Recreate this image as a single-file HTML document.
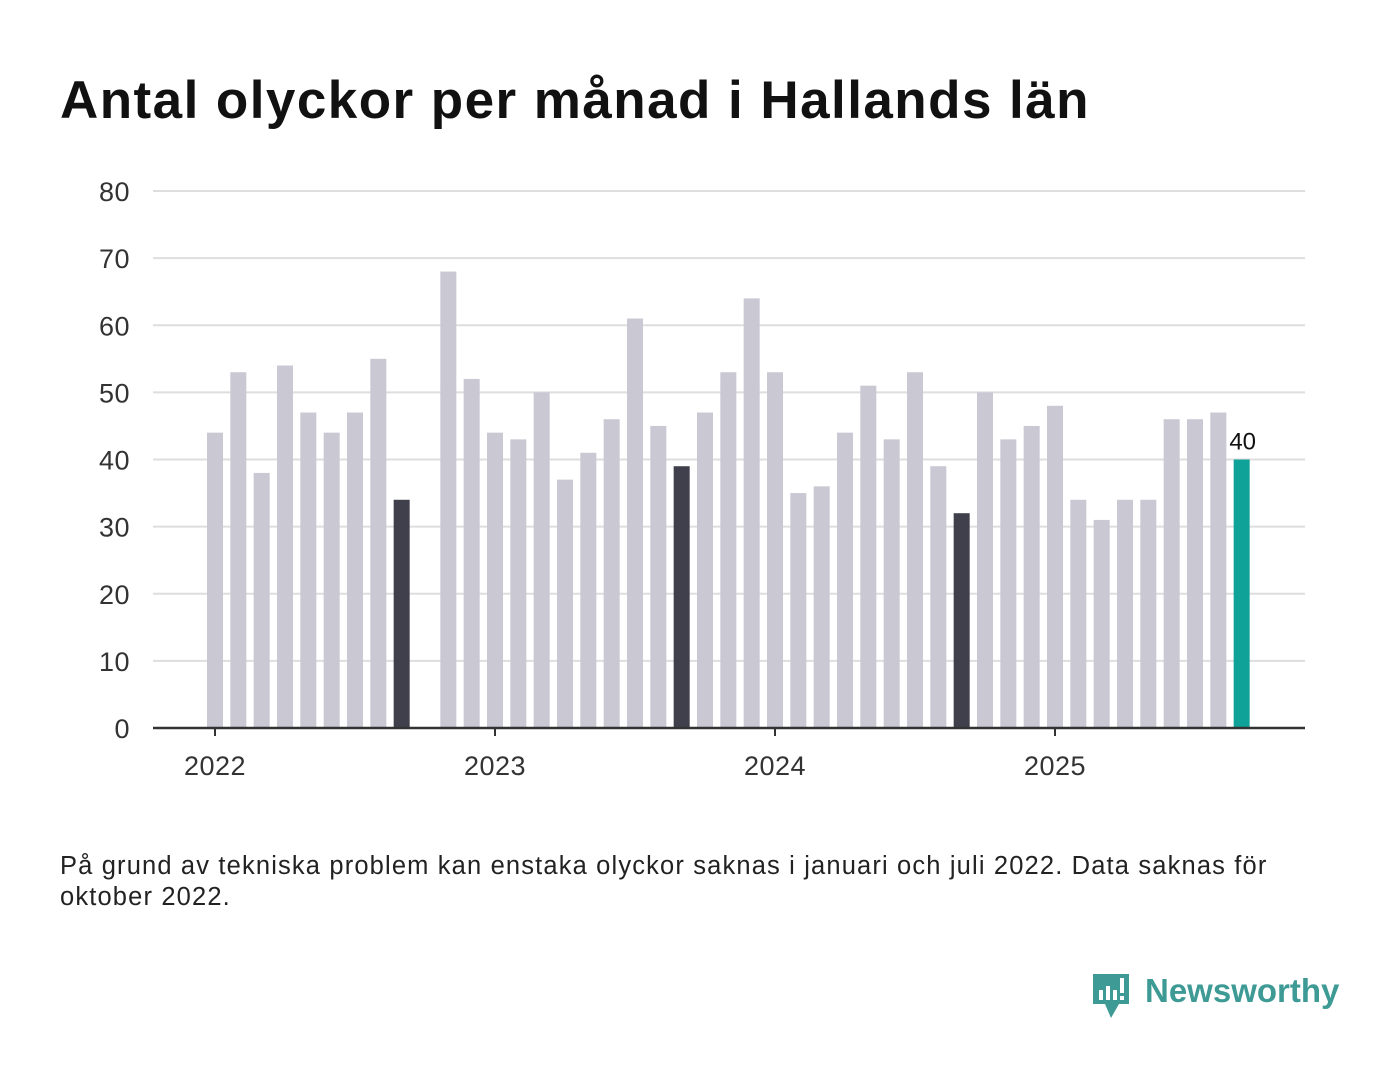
<!DOCTYPE html>
<html><head><meta charset="utf-8"><style>
body{margin:0;width:1400px;height:1080px;background:#fff;font-family:"Liberation Sans","DejaVu Sans",sans-serif;overflow:hidden;position:relative}
h1{position:absolute;left:60px;top:70px;margin:0;font-size:53px;font-weight:bold;color:#111;letter-spacing:1.45px}
.note{position:absolute;left:60px;top:851px;font-size:25.5px;color:#222;line-height:31px;width:1240px;letter-spacing:1.15px}
.logo{position:absolute;left:1091px;top:970px}
</style></head><body>
<h1>Antal olyckor per månad i Hallands län</h1>
<svg id="chart" width="1400" height="1080" style="position:absolute;left:0;top:0"></svg>
<div class="note">På grund av tekniska problem kan enstaka olyckor saknas i januari och juli 2022. Data saknas för oktober 2022.</div>
<div class="logo">
<svg width="250" height="52" viewBox="0 0 250 52">
<path d="M2 4h36v30H28l-8 14-6-14H2z" fill="#3e9a94"/>
<rect x="8" y="20" width="4" height="10" fill="#fff"/><rect x="15" y="16" width="4" height="14" fill="#fff"/><rect x="22" y="20" width="4" height="10" fill="#fff"/><rect x="29" y="8" width="4" height="15" fill="#fff"/><rect x="29" y="26" width="4" height="4" fill="#fff"/>
<text x="54" y="32" font-size="33" font-weight="bold" fill="#3e9a94" font-family="Liberation Sans, sans-serif">Newsworthy</text>
</svg></div>
<script>
const months=["2022-01","2022-02","2022-03","2022-04","2022-05","2022-06","2022-07","2022-08","2022-09","2022-10","2022-11","2022-12",
"2023-01","2023-02","2023-03","2023-04","2023-05","2023-06","2023-07","2023-08","2023-09","2023-10","2023-11","2023-12",
"2024-01","2024-02","2024-03","2024-04","2024-05","2024-06","2024-07","2024-08","2024-09","2024-10","2024-11","2024-12",
"2025-01","2025-02","2025-03","2025-04","2025-05","2025-06","2025-07","2025-08","2025-09"];
const values=[44,53,38,54,47,44,47,55,34,null,68,52,
44,43,50,37,41,46,61,45,39,47,53,64,
53,35,36,44,51,43,53,39,32,50,43,45,
48,34,31,34,34,46,46,47,40];
const yTicks=[0,10,20,30,40,50,60,70,80];
const xTickLabels=["2022","2023","2024","2025"];
const NS="http://www.w3.org/2000/svg";
const svg=document.getElementById('chart');
const y=v=>728-v*(537/80);
const x=i=>215+i*(280/12);
function el(t,a){const e=document.createElementNS(NS,t);for(const k in a)e.setAttribute(k,a[k]);svg.appendChild(e);return e;}
yTicks.forEach(t=>{
 if(t>0){const g=el('line',{x1:153,x2:1305,y1:y(t),y2:y(t),stroke:'#dedede','stroke-width':2});
 
 }
 const l=el('text',{x:130,y:y(t)+10,'text-anchor':'end','font-size':27,fill:'#333','letter-spacing':'0.5'});l.textContent=t;
 
 
});
values.forEach((v,i)=>{
 if(v==null)return;
 const last=i===values.length-1;
 const col=last?'#0fa298':(months[i].endsWith('-09')?'#403f4c':'#c9c8d3');
 const r=el('rect',{x:x(i)-8,y:y(v),width:16,height:728-y(v),fill:col});
 
 
 if(last){const t=el('text',{x:x(i)+1,y:y(v)-10,'text-anchor':'middle','font-size':24,fill:'#111'});t.textContent=v;
 
 }
});
const ax=el('line',{x1:153,x2:1305,y1:728,y2:728,stroke:'#333','stroke-width':2.5});


xTickLabels.forEach((lab,k)=>{
 const xi=x(k*12);
 const tk=el('line',{x1:xi,x2:xi,y1:728,y2:736,stroke:'#333','stroke-width':2});
 
 
 const t=el('text',{x:xi,y:775,'text-anchor':'middle','font-size':27,fill:'#333','letter-spacing':'0.5'});t.textContent=lab;
 
 
});
</script>
</body></html>
